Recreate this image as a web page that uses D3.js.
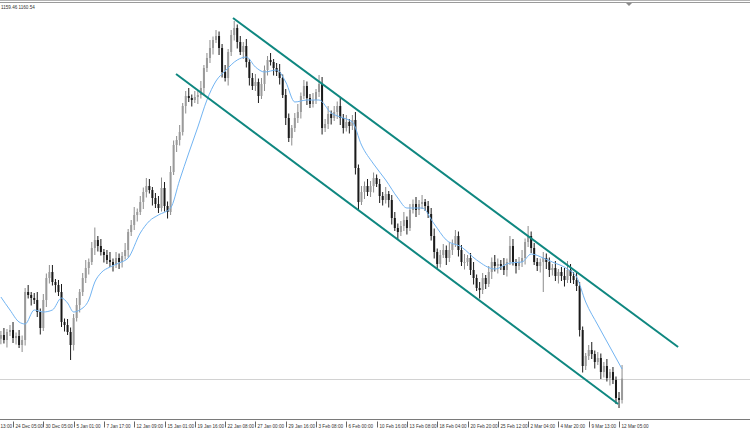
<!DOCTYPE html>
<html lang="en">
<head>
<meta charset="UTF-8">
<title>XAUUSD H4</title>
<style>
  body { margin: 0; background: #fff; }
  svg text { font-family: "Liberation Sans", Arial, sans-serif; }
</style>
<script src="https://d3js.org/d3.v7.min.js"></script>
</head>
<body>
<script>
// ---- data ----
const opens = [1176.5,1178,1176,1179.2,1180,1176.8,1177.6,1174,1176,1195.2,
  1194,1192.8,1192,1187.2,1180.8,1192,1200.8,1203.2,1199.2,1198,
  1195.2,1183.2,1182,1179.2,1174,1184.8,1190,1195.2,1200.8,1204.8,
  1207.2,1212.8,1216,1213.6,1211.2,1210,1208,1207.2,1206,1208.8,
  1207.2,1209.6,1212,1219.2,1222,1226,1227.2,1231.2,1235.2,1237.6,
  1236,1232.8,1230.4,1228.8,1236.8,1229.6,1227.2,1243.2,1254,1256,
  1259.2,1269.6,1273.6,1272.8,1272,1273.2,1274,1276.8,1284.8,1288.8,
  1292.8,1296,1297.6,1292.8,1283.2,1280.8,1291.2,1298,1300.8,1295.2,
  1291.2,1293.6,1287.2,1280.8,1277.6,1279.2,1273.6,1278.4,1284,1288,
  1287.2,1284.8,1283.2,1280.8,1274,1264.8,1256.8,1260.8,1264.8,1267.2,
  1273.6,1277.6,1272.8,1270.4,1272,1275.2,1278.4,1260.8,1262.4,1266.4,
  1264.8,1267.2,1269.6,1264.8,1260.8,1263.2,1261.6,1264,1244.8,1231.2,
  1235.2,1237.6,1235.2,1237.6,1240.8,1238.4,1233.6,1232,1234.4,1232,
  1224.8,1220.8,1219.2,1221.6,1224,1220.8,1228,1230.4,1228,1230.4,
  1231.2,1229.6,1226.4,1217.6,1211.2,1206.4,1210,1212,1208.8,1212,
  1214.4,1217.6,1212,1207.2,1207.2,1208.8,1204,1200.8,1196.8,1196,
  1200.8,1198.4,1203.2,1207.2,1205.6,1206.4,1205.6,1204,1207.2,1213.6,
  1207.2,1205.6,1207.2,1208.8,1215.2,1217.6,1212.8,1207.2,1205.6,1207.2,
  1208.8,1207.2,1204,1204.8,1201.6,1203.2,1201.6,1200,1204,1201.6,
  1200,1197.6,1180,1165.6,1169.6,1172,1170.4,1167.2,1168.8,1163.2,
  1165.6,1160.8,1163.2,1160,1152.8,1152];
const highs = [1179.6,1180.8,1180.4,1182,1183.2,1179,1180,1177.8,1196.8,1198,
  1195.2,1194.8,1195.2,1188.6,1194.4,1202.6,1206,1206,1200.4,1200,
  1198.4,1184.6,1184.4,1181,1186.4,1192.8,1196.4,1202.8,1208,1208.6,
  1215.2,1221,1217.6,1216.4,1212.4,1212,1211.2,1208.6,1211.2,1210.6,
  1211.2,1214.8,1220.4,1224,1229.2,1228.6,1233.6,1237,1240.8,1240.4,
  1237.2,1234.8,1233.6,1241,1239.2,1231.4,1245.6,1255.8,1257.6,1262,
  1270.8,1275.6,1276.8,1274.2,1275.6,1275.8,1279.6,1286,1290.8,1296,
  1297.4,1300,1299.4,1294.4,1286,1292.4,1300,1303.6,1302.2,1297.6,
  1295.2,1296.4,1288.4,1282.8,1282.4,1280.6,1280.8,1285.8,1289.6,1290.8,
  1288.4,1286.8,1286.4,1282.2,1276.4,1266.6,1262,1266.8,1270.4,1275,
  1280,1279.4,1274.4,1274.8,1276.4,1282,1281.2,1264.4,1269.6,1267.8,
  1269.6,1271.4,1272.8,1266.4,1266,1264.4,1266,1267.2,1246.2,1237.6,
  1239.4,1240.4,1239.6,1243,1242.2,1240.4,1235.2,1237.2,1235.6,1234,
  1227.2,1222.6,1223.6,1227.2,1225.4,1230.4,1232.2,1233.2,1232,1234,
  1232.4,1231.6,1228.8,1220.6,1212.6,1212,1214.4,1213.8,1215.2,1216.2,
  1220,1219.4,1214,1210.4,1210,1210.8,1207.2,1202.2,1199.2,1202.8,
  1202,1205.6,1209,1210,1208.6,1208,1208.8,1208.6,1217.6,1216.4,
  1208.4,1209.2,1212,1216.6,1221.6,1219.4,1214.8,1208.8,1208.6,1211.2,
  1210.6,1209,1206.4,1207.6,1204.4,1205.2,1204.8,1207.6,1206.4,1203.2,
  1202.8,1199.2,1181.4,1170.8,1174,1175.2,1171.8,1171.2,1170.6,1167.2,
  1168.4,1164.4,1165.2,1161.4,1155.2,1166];
const lows = [1174.3,1174.6,1173,1177.6,1174.8,1174.2,1172.8,1171.2,1173.8,1192.6,
  1189.8,1190.4,1185.2,1178.2,1179.6,1189.2,1198.6,1197.8,1195,1193.6,
  1181.2,1179.4,1178,1168,1171.8,1183.4,1187,1193.6,1198.8,1202.2,
  1206,1210,1211.4,1209.8,1207,1206.4,1205.2,1203.4,1204.8,1204.4,
  1205,1208.2,1209,1217.6,1220,1223.4,1226,1228.4,1233,1234.6,
  1229.8,1228.8,1226.8,1227.4,1227.4,1224.6,1226,1242,1251.2,1253.8,
  1257.8,1266.6,1271.2,1269.4,1270.8,1270.4,1272.6,1273.8,1283.2,1286.8,
  1290.2,1294.8,1290,1281,1279.4,1277.8,1289.6,1295.8,1292.6,1290,
  1288.4,1285,1277.8,1276,1275.6,1270.8,1272.4,1275.6,1281.8,1285.8,
  1281.8,1281.6,1278.2,1272.8,1262,1255.2,1253.8,1259.2,1262.8,1264.6,
  1272.4,1270,1268.8,1269,1270.4,1273.2,1258.2,1259.2,1260.4,1262.2,
  1263.6,1264.4,1262,1258.6,1259.4,1258.6,1260,1242.2,1227.6,1230,
  1232.4,1233.6,1233.2,1235,1237.2,1230.8,1229.8,1230.6,1229,1222.2,
  1219.6,1216.4,1217.6,1219.6,1218.2,1219.6,1226.6,1225.2,1226,1228.4,
  1227.6,1224.8,1215.8,1208.6,1204.6,1205,1208.8,1206,1207.2,1210,
  1213.2,1209.4,1205.6,1204.2,1205.6,1202,1198.2,1195.6,1192.6,1194.4,
  1196.4,1197.2,1200.4,1203.4,1202.6,1204,1202,1201.4,1206,1205.8,
  1202.6,1204,1205.2,1206.2,1213.2,1210.8,1206,1203.6,1203,1195.2,
  1204.4,1201.2,1201.8,1199.6,1198.6,1199.6,1197.4,1198.8,1198.8,1198.4,
  1195.6,1177.4,1163,1164,1168,1168.4,1164.6,1166,1160.4,1161,
  1159.4,1157.8,1158.4,1150.4,1148.8,1150.6];
const closes = [1178,1176,1179.2,1180,1176.8,1177.6,1174,1176,1195.2,1194,
  1192.8,1192,1187.2,1180.8,1192,1200.8,1203.2,1199.2,1198,1195.2,
  1183.2,1182,1179.2,1174,1184.8,1190,1195.2,1200.8,1204.8,1207.2,
  1212.8,1216,1213.6,1211.2,1210,1208,1207.2,1206,1208.8,1207.2,
  1209.6,1212,1219.2,1222,1226,1227.2,1231.2,1235.2,1237.6,1236,
  1232.8,1230.4,1228.8,1236.8,1229.6,1227.2,1243.2,1254,1256,1259.2,
  1269.6,1273.6,1272.8,1272,1273.2,1274,1276.8,1284.8,1288.8,1292.8,
  1296,1297.6,1292.8,1283.2,1280.8,1291.2,1298,1300.8,1295.2,1291.2,
  1293.6,1287.2,1280.8,1277.6,1279.2,1273.6,1278.4,1284,1288,1287.2,
  1284.8,1283.2,1280.8,1274,1264.8,1256.8,1260.8,1264.8,1267.2,1273.6,
  1277.6,1272.8,1270.4,1272,1275.2,1278.4,1260.8,1262.4,1266.4,1264.8,
  1267.2,1269.6,1264.8,1260.8,1263.2,1261.6,1264,1244.8,1231.2,1235.2,
  1237.6,1235.2,1237.6,1240.8,1238.4,1233.6,1232,1234.4,1232,1224.8,
  1220.8,1219.2,1221.6,1224,1220.8,1228,1230.4,1228,1230.4,1231.2,
  1229.6,1226.4,1217.6,1211.2,1206.4,1210,1212,1208.8,1212,1214.4,
  1217.6,1212,1207.2,1207.2,1208.8,1204,1200.8,1196.8,1196,1200.8,
  1198.4,1203.2,1207.2,1205.6,1206.4,1205.6,1204,1207.2,1213.6,1207.2,
  1205.6,1207.2,1208.8,1215.2,1217.6,1212.8,1207.2,1205.6,1207.2,1208.8,
  1207.2,1204,1204.8,1201.6,1203.2,1201.6,1200,1204,1201.6,1200,
  1197.6,1180,1165.6,1169.6,1172,1170.4,1167.2,1168.8,1163.2,1165.6,
  1160.8,1163.2,1160,1152.8,1152,1160.54];

// moving average, read at selected bars
const maBars = [0,3,6,8,11,14,17,20,22,24,26,29,31,33,36,39,42,46,49,52,56,59,62,65,68,71,74,78,81,84,
  87,91,94,97,101,105,109,112,116,119,123,127,131,134,139,143,147,152,157,163,168,172,175,179,182,187,190,193,197,201,205];
const maValues = [1193.2,1188,1183.2,1182.4,1188,1187.2,1188,1192.8,1190.8,1187.2,1188,1192,1199.2,1202.8,1205.2,1206.8,1208.8,1218.8,1223.6,1226,
  1228.8,1240,1250.8,1261.2,1272,1279.6,1283.6,1288,1289.2,1285.2,1283.2,1284,1279.2,1271.2,1272,1272,1266.8,1265.2,1263.2,1254,
  1246.4,1240,1232.8,1228.8,1228.8,1222.4,1216,1213.2,1208,1204.4,1206.8,1207.2,1210.4,1208.8,1207.2,1204.4,1201.2,1191.2,1182,1173.2,1164.4];

// channel lines: [bar, price] at both ends
const upperChannel = [[76.6, 1304.8], [223.5, 1173.2]];
const lowerChannel = [[57.8, 1282.4], [203.7, 1150.4]];

const bid = 1160.54;
const headerText = "1159.46 1160.54";

// first label is only partly on screen in the original, its time shows
const tickBars = [-6,4,14,24,34,44,54,64,74,84,94,104,114,124,134,144,154,164,174,184,194,204];
const tickLabels = ["13:00","24 Dec 05:00","30 Dec 05:00","5 Jan 01:00","7 Jan 17:00","12 Jan 09:00",
  "15 Jan 01:00","19 Jan 16:00","22 Jan 08:00","27 Jan 00:00","29 Jan 16:00","3 Feb 08:00","6 Feb 00:00",
  "10 Feb 16:00","13 Feb 08:00","18 Feb 04:00","20 Feb 20:00","25 Feb 12:00","2 Mar 04:00","4 Mar 20:00",
  "9 Mar 13:00","12 Mar 05:00"];

// ---- chart ----
const W = 750, H = 430;
const axisY = 419.5;

const x = d3.scaleLinear().domain([0, 205]).range([0.9, 622.05]);
const y = d3.scaleLinear().domain([1144.4, 1310]).range([419, 5]);

const svg = d3.select("body").append("svg")
  .attr("width", W).attr("height", H);

// top frame
svg.append("rect").attr("x", 0).attr("y", 0).attr("width", W).attr("height", 1)
  .attr("fill", "#b4b4b4");
svg.append("rect").attr("x", 0).attr("y", 2).attr("width", W).attr("height", 1)
  .attr("fill", "#9a9a9a");
// chart shift marker
svg.append("path").attr("d", "M626,3 L632,3 L629,6 Z").attr("fill", "#8a8a8a");

svg.append("text").attr("x", 1).attr("y", 8.5)
  .attr("font-size", 4.6).attr("fill", "#333").text(headerText);

// bid line
svg.append("line")
  .attr("x1", 0).attr("x2", W)
  .attr("y1", Math.round(y(bid)) + 0.5).attr("y2", Math.round(y(bid)) + 0.5)
  .attr("stroke", "#d2d2d2").attr("stroke-width", 1);

// bars
const bars = closes.map((c, i) => ({ i, o: opens[i], h: highs[i], l: lows[i], c }));
const g = svg.append("g");
g.selectAll("line.wick").data(bars).join("line")
  .attr("class", "wick")
  .attr("x1", d => x(d.i)).attr("x2", d => x(d.i))
  .attr("y1", d => y(d.h)).attr("y2", d => y(d.l))
  .attr("stroke", d => d.c >= d.o ? "#8c8c8c" : "#1a1a1a")
  .attr("stroke-width", 1);
g.selectAll("rect.body").data(bars).join("rect")
  .attr("class", "body")
  .attr("x", d => x(d.i) - 1)
  .attr("width", 2)
  .attr("y", d => y(Math.max(d.o, d.c)))
  .attr("height", d => Math.max(1, Math.abs(y(d.o) - y(d.c))))
  .attr("fill", d => d.c >= d.o ? "#9a9a9a" : "#1a1a1a");

// moving average
const maLine = d3.line()
  .x((d, k) => x(maBars[k]))
  .y(d => y(d))
  .curve(d3.curveMonotoneX);
svg.append("path").datum(maValues)
  .attr("d", maLine)
  .attr("fill", "none").attr("stroke", "#72b4f2").attr("stroke-width", 1);

// channel
const chLine = d3.line().x(d => x(d[0])).y(d => y(d[1]));
[upperChannel, lowerChannel].forEach(ch => {
  svg.append("path").datum(ch).attr("d", chLine)
    .attr("fill", "none").attr("stroke", "#0f8780").attr("stroke-width", 2);
});

// time axis
svg.append("line").attr("x1", 0).attr("x2", W).attr("y1", axisY).attr("y2", axisY)
  .attr("stroke", "#7a7a7a").attr("stroke-width", 1);
const ticks = svg.append("g").selectAll("g").data(tickBars).join("g")
  .attr("transform", d => `translate(${Math.round(x(d)) + 0.5},0)`);
ticks.append("line").attr("y1", axisY + 2).attr("y2", axisY + 8)
  .attr("stroke", "#666").attr("stroke-width", 1);
ticks.append("text")
  .attr("x", (d, k) => k === 0 ? -Math.round(x(d)) : 2)
  .attr("y", 428)
  .attr("font-size", 4.6).attr("fill", "#333")
  .text((d, k) => tickLabels[k]);
</script>
</body>
</html>
